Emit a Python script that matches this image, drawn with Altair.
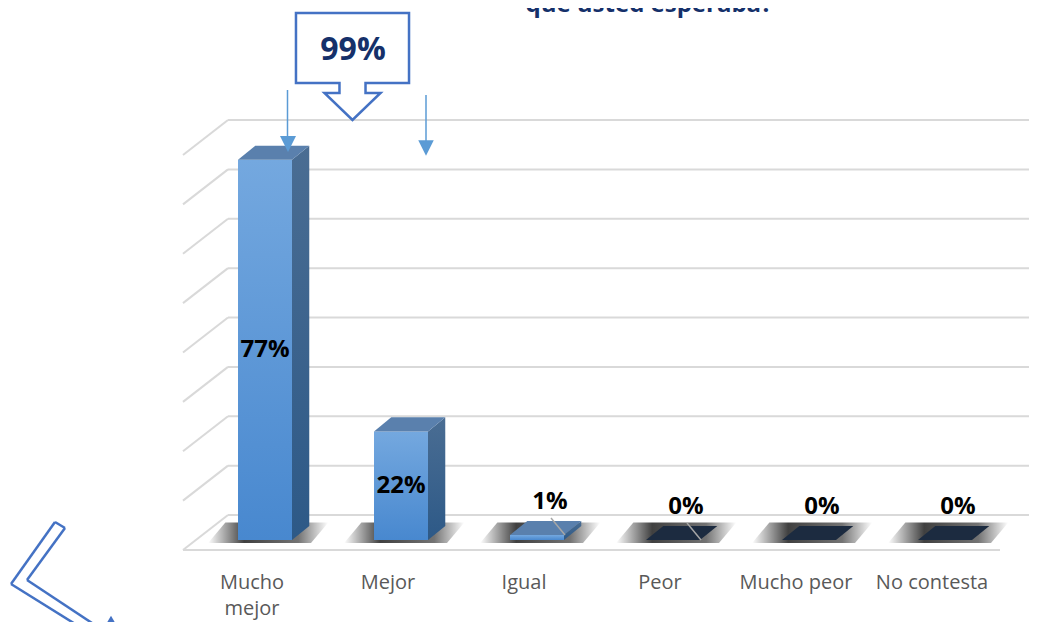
import altair as alt
import pandas as pd

# ---------------- data ----------------
categories = ["Mucho mejor", "Mejor", "Igual", "Peor", "Mucho peor", "No contesta"]
tick_labels = ["Mucho\nmejor", "Mejor", "Igual", "Peor", "Mucho peor", "No contesta"]
values = [0.77, 0.22, 0.01, 0.0, 0.0, 0.0]
value_labels = ["77%", "22%", "1%", "0%", "0%", "0%"]
has_leader = [False, False, True, True, False, False]
grid_values = [0.0, 0.1, 0.2, 0.3, 0.4, 0.5, 0.6, 0.7, 0.8]
title_text = "que usted esperaba?"
callout_text = "99%"

# ---------------- style / geometry ----------------
HW = 0.1985  # half width of bar front (bar-scale units)
DX = 0.127   # depth offset x
DY = 0.0284  # depth offset y
BAR_X_DOMAIN = [-0.5956, 5.4044]
LAB_X_DOMAIN = [-0.5, 5.5]
Y_DOMAIN = [0, 0.8]
FONT = "Open Sans"
NAVY = "#15306a"
GRID = "#d9d9d9"

idx = list(range(len(categories)))
bars = pd.DataFrame({"idx": idx, "cat": categories, "v": values,
                     "label": value_labels, "leader": has_leader,
                     "tick": tick_labels})

top_rows, side_rows, shadow_rows = [], [], []
for i, v in zip(idx, values):
    top_rows.append({"idx": i, "y": v, "xl": i - HW, "xr": i + HW, "zero": v == 0})
    top_rows.append({"idx": i, "y": v + DY, "xl": i - HW + DX, "xr": i + HW + DX, "zero": v == 0})
    if v > 0:
        side_rows.append({"idx": i, "x": i + HW, "y0": 0.0, "y1": v})
        side_rows.append({"idx": i, "x": i + HW + DX, "y0": DY, "y1": v + DY})
    shadow_rows.append({"idx": i, "y": -0.006, "xl": i - HW - 0.22, "xr": i + HW + 0.14})
    shadow_rows.append({"idx": i, "y": DY + 0.007, "xl": i - HW + DX - 0.22, "xr": i + HW + DX + 0.14})
tops = pd.DataFrame(top_rows)
sides = pd.DataFrame(side_rows)
shadows = pd.DataFrame(shadow_rows)
grid = pd.DataFrame({"g": grid_values})

bx = alt.Scale(domain=BAR_X_DOMAIN, nice=False, zero=False)
lx = alt.Scale(domain=LAB_X_DOMAIN, nice=False, zero=False)
ys = alt.Scale(domain=Y_DOMAIN, nice=False, zero=False)


def grad(stops, vertical=True):
    return {"gradient": "linear", "x1": 0, "y1": 0,
            "x2": 0 if vertical else 1, "y2": 1 if vertical else 0,
            "stops": [{"offset": o, "color": c} for o, c in stops]}


# ---------------- gridlines ----------------
back_grid = alt.Chart(grid).mark_rule(color=GRID, strokeWidth=2, yOffset=-25).encode(
    x=alt.value(44), x2=alt.value(860),
    y=alt.Y("g:Q", scale=ys, axis=None))
slant_grid = alt.Chart(grid).mark_rule(color=GRID, strokeWidth=2, yOffset=10, y2Offset=-25).encode(
    x=alt.value(-1), x2=alt.value(44),
    y=alt.Y("g:Q", scale=ys, axis=None), y2="g:Q")
floor_front = alt.Chart(grid).transform_filter("datum.g == 0").mark_rule(
    color=GRID, strokeWidth=2, yOffset=10).encode(
    x=alt.value(-1), x2=alt.value(816),
    y=alt.Y("g:Q", scale=ys, axis=None))

# ---------------- 3D bars ----------------
shadow = alt.Chart(shadows).mark_area(
    orient="horizontal",
    color=grad([(0, "rgba(0,0,0,0)"), (0.3, "rgba(0,0,0,0.75)"),
                (0.75, "rgba(0,0,0,0.55)"), (1, "rgba(0,0,0,0)")], vertical=False)
).encode(
    y=alt.Y("y:Q", scale=ys, axis=None),
    x=alt.X("xl:Q", scale=bx, axis=None), x2="xr:Q",
    detail="idx:N")

side = alt.Chart(sides).mark_area(
    orient="vertical",
    color=grad([(0, "#4a6d93"), (1, "#2d5987")])
).encode(
    x=alt.X("x:Q", scale=bx, axis=None),
    y=alt.Y("y0:Q", scale=ys, axis=None), y2="y1:Q",
    detail="idx:N")

front = alt.Chart(bars).transform_filter("datum.v > 0").transform_calculate(
    xl=f"datum.idx - {HW}", xr=f"datum.idx + {HW}", y0="0"
).mark_bar(color=grad([(0, "#74a8df"), (1, "#4888cf")])).encode(
    x=alt.X("xl:Q", scale=bx, axis=None), x2="xr:Q",
    y=alt.Y("y0:Q", scale=ys, axis=None), y2="v:Q")

top_blue = alt.Chart(tops).transform_filter("!datum.zero").mark_area(
    orient="horizontal", color="#5a80ad").encode(
    y=alt.Y("y:Q", scale=ys, axis=None),
    x=alt.X("xl:Q", scale=bx, axis=None), x2="xr:Q",
    detail="idx:N")

top_zero = alt.Chart(tops).transform_filter("datum.zero").mark_area(
    orient="horizontal", color="#1c2b40").encode(
    y=alt.Y("y:Q", scale=ys, axis=None),
    x=alt.X("xl:Q", scale=bx, axis=None), x2="xr:Q",
    detail="idx:N")

leaders = alt.Chart(bars).transform_filter("datum.leader").mark_rule(
    color="#a6a6a6", strokeWidth=1.5, xOffset=14, x2Offset=28, yOffset=-17, y2Offset=0
).encode(
    x=alt.X("idx:Q", scale=bx, axis=None), x2="idx:Q",
    y=alt.Y("v:Q", scale=ys, axis=None), y2="v:Q")

big_labels = alt.Chart(bars).transform_filter("datum.v >= 0.1").transform_calculate(
    ym="datum.v / 2").mark_text(
    font=FONT, fontSize=24, fontWeight="bold", color="black", baseline="middle"
).encode(
    x=alt.X("idx:Q", scale=bx, axis=None),
    y=alt.Y("ym:Q", scale=ys, axis=None),
    text="label:N")

small_labels = alt.Chart(bars).transform_filter("datum.v < 0.1").mark_text(
    font=FONT, fontSize=24, fontWeight="bold", color="black", baseline="middle",
    dx=13, dy=-33
).encode(
    x=alt.X("idx:Q", scale=bx, axis=None),
    y=alt.Y("v:Q", scale=ys, axis=None),
    text="label:N")

cat_labels = alt.Chart(bars).mark_text(
    font=FONT, fontSize=20, color="#595959", baseline="top", lineBreak="\n",
    lineHeight=26
).encode(
    x=alt.X("idx:Q", scale=lx, axis=None),
    y=alt.value(428),
    text="tick:N")

# ---------------- annotations ----------------
ann = pd.DataFrame({"t": [callout_text]})
callout_path = ("M -0.942 -0.892 L 0.942 -0.892 L 0.942 0.275 L 0.217 0.275 "
                "L 0.217 0.442 L 0.467 0.442 L 0 0.892 L -0.467 0.442 L -0.217 0.442 "
                "L -0.217 0.275 L -0.942 0.275 Z")
callout = alt.Chart(ann).mark_point(
    shape=callout_path, size=14400, filled=True, fill="white", fillOpacity=1,
    stroke="#4472c4", strokeWidth=2.5, opacity=1
).encode(x=alt.value(168.5), y=alt.value(-78.5))
callout_txt = alt.Chart(ann).mark_text(
    font=FONT, fontSize=32, fontWeight="bold", color=NAVY, baseline="middle"
).encode(x=alt.value(169), y=alt.value(-95.5), text="t:N")

arrow_lines = alt.Chart(ann).mark_rule(color="#5b9bd5", strokeWidth=1.5).encode(
    x=alt.value(103.5), y=alt.value(-55), y2=alt.value(-8))
arrow_lines2 = alt.Chart(ann).mark_rule(color="#5b9bd5", strokeWidth=1.5).encode(
    x=alt.value(242), y=alt.value(-50), y2=alt.value(-3))
tri_path = "M -1 -1 L 1 -1 L 0 1 Z"
arrow_head1 = alt.Chart(ann).mark_point(
    shape=tri_path, size=256, filled=True, color="#5b9bd5", opacity=1
).encode(x=alt.value(104), y=alt.value(-1))
arrow_head2 = alt.Chart(ann).mark_point(
    shape=tri_path, size=240, filled=True, color="#5b9bd5", opacity=1
).encode(x=alt.value(242), y=alt.value(3))

chev_style = dict(color="#4472c4", strokeWidth=2.5)
chev = [
    alt.Chart(ann).mark_rule(**chev_style).encode(
        x=alt.value(-129), y=alt.value(377), x2=alt.value(-119), y2=alt.value(383)),
    alt.Chart(ann).mark_rule(**chev_style).encode(
        x=alt.value(-129), y=alt.value(377), x2=alt.value(-173), y2=alt.value(439)),
    alt.Chart(ann).mark_rule(**chev_style).encode(
        x=alt.value(-173), y=alt.value(439), x2=alt.value(-104), y2=alt.value(482)),
    alt.Chart(ann).mark_rule(**chev_style).encode(
        x=alt.value(-119), y=alt.value(383), x2=alt.value(-157), y2=alt.value(435)),
    alt.Chart(ann).mark_rule(**chev_style).encode(
        x=alt.value(-157), y=alt.value(435), x2=alt.value(-86), y2=alt.value(482)),
]
chev_tip = alt.Chart(ann).mark_point(
    shape="triangle-up", size=60, filled=True, color="#4472c4", opacity=1
).encode(x=alt.value(-73), y=alt.value(474))

title = alt.Chart(pd.DataFrame({"t": [title_text]})).mark_text(
    font=FONT, fontSize=24, fontWeight="bold", color=NAVY, baseline="alphabetic"
).encode(x=alt.value(465), y=alt.value(-133), text="t:N")

chart = alt.layer(
    back_grid, slant_grid, floor_front,
    shadow, top_zero, side, front, top_blue,
    leaders, big_labels, small_labels, cat_labels,
    callout, callout_txt, arrow_lines, arrow_lines2, arrow_head1, arrow_head2,
    *chev, chev_tip, title
).resolve_scale(x="independent").properties(
    width=816, height=395,
    autosize=alt.AutoSizeParams(type="none"),
    padding={"left": 176, "top": 137, "right": 29, "bottom": 82},
).configure_view(stroke=None)

chart.save("out.html", embed_options={"renderer": "svg", "actions": False})
